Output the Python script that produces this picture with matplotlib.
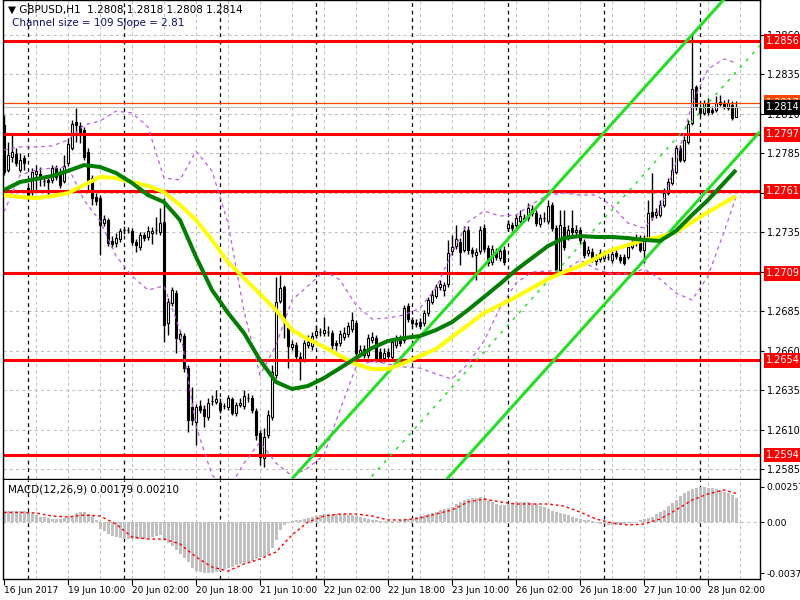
import numpy as np
import matplotlib
matplotlib.use("Agg")
import matplotlib.pyplot as plt
from matplotlib import transforms

plt.rcParams['font.family'] = ['DejaVu Sans']

# ---------------- text ----------------
symbol_title = "\u25BC GBPUSD,H1  1.2808 1.2818 1.2808 1.2814"
channel_text = "Channel size = 109 Slope = 2.81"
macd_title = "MACD(12,26,9) 0.00179 0.00210"

time_idx = [0, 16, 32, 48, 64, 80, 96, 112, 128, 144, 160, 176]
time_labels = ["16 Jun 2017", "19 Jun 10:00", "20 Jun 02:00", "20 Jun 18:00",
               "21 Jun 10:00", "22 Jun 02:00", "22 Jun 18:00", "23 Jun 10:00",
               "26 Jun 02:00", "26 Jun 18:00", "27 Jun 10:00", "28 Jun 02:00"]
day_separators = [6, 30, 54, 78, 102, 126, 150, 174]

# ---------------- H1 candles ----------------
opens = [
    1.28028, 1.27744, 1.27827, 1.27846, 1.27744, 1.27820, 1.27630, 1.27617, 1.27719, 1.27719,
    1.27675, 1.27681, 1.27681, 1.27756, 1.27731, 1.27675, 1.27788, 1.27883, 1.28047, 1.28022,
    1.27997, 1.27858, 1.27693, 1.27573, 1.27566, 1.27408, 1.27427, 1.27295, 1.27282, 1.27307,
    1.27364, 1.27364, 1.27358, 1.27288, 1.27257, 1.27332, 1.27320, 1.27345, 1.27364, 1.27351,
    1.27414, 1.26775, 1.26902, 1.26965, 1.26674, 1.26693, 1.26490, 1.26244, 1.26148, 1.26250,
    1.26231, 1.26181, 1.26282, 1.26275, 1.26269, 1.26250, 1.26244, 1.26294, 1.26206, 1.26256,
    1.26250, 1.26300, 1.26300, 1.26219, 1.26079, 1.25921, 1.26066, 1.26181, 1.26446, 1.26915,
    1.27004, 1.26743, 1.26624, 1.26636, 1.26561, 1.26541, 1.26636, 1.26630, 1.26699, 1.26718,
    1.26712, 1.26718, 1.26712, 1.26649, 1.26649, 1.26687, 1.26706, 1.26737, 1.26775, 1.26586,
    1.26611, 1.26573, 1.26668, 1.26680, 1.26592, 1.26554, 1.26592, 1.26561, 1.26636, 1.26680,
    1.26668, 1.26883, 1.26794, 1.26769, 1.26781, 1.26775, 1.26839, 1.26908, 1.26946, 1.27004,
    1.26984, 1.27023, 1.27232, 1.27263, 1.27288, 1.27238, 1.27364, 1.27238, 1.27206, 1.27232,
    1.27376, 1.27250, 1.27161, 1.27225, 1.27187, 1.27238, 1.27376, 1.27395, 1.27395, 1.27421,
    1.27427, 1.27440, 1.27497, 1.27472, 1.27402, 1.27440, 1.27421, 1.27522, 1.27376, 1.27111,
    1.27383, 1.27332, 1.27376, 1.27351, 1.27364, 1.27288, 1.27219, 1.27225, 1.27168, 1.27181,
    1.27187, 1.27194, 1.27174, 1.27219, 1.27194, 1.27194, 1.27194, 1.27257, 1.27282, 1.27313,
    1.27238, 1.27313, 1.27478, 1.27459, 1.27459, 1.27522, 1.27598, 1.27662, 1.27731, 1.27883,
    1.27807, 1.27921, 1.28041, 1.28270, 1.28136, 1.28105, 1.28168, 1.28124, 1.28124, 1.28174,
    1.28168, 1.28136, 1.28155, 1.28080]
highs = [
    1.28092, 1.27921, 1.27978, 1.27883, 1.27852, 1.27839, 1.27649, 1.27756, 1.27775, 1.27763,
    1.27700, 1.27693, 1.27775, 1.27775, 1.27756, 1.27839, 1.27946, 1.28060, 1.28136, 1.28047,
    1.28016, 1.27883, 1.27712, 1.27598, 1.27585, 1.27459, 1.27440, 1.27326, 1.27345, 1.27376,
    1.27389, 1.27383, 1.27376, 1.27307, 1.27351, 1.27351, 1.27389, 1.27383, 1.27447, 1.27503,
    1.27566, 1.26933, 1.27004, 1.26984, 1.26731, 1.26712, 1.26509, 1.26371, 1.26263, 1.26288,
    1.26256, 1.26300, 1.26319, 1.26351, 1.26300, 1.26269, 1.26319, 1.26307, 1.26275, 1.26300,
    1.26351, 1.26332, 1.26319, 1.26237, 1.26098, 1.26110, 1.26225, 1.26509, 1.27067, 1.27079,
    1.27016, 1.26763, 1.26668, 1.26655, 1.26592, 1.26668, 1.26699, 1.26718, 1.26763, 1.26743,
    1.26814, 1.26756, 1.26731, 1.26668, 1.26731, 1.26750, 1.26781, 1.26845, 1.26794, 1.26636,
    1.26636, 1.26706, 1.26718, 1.26699, 1.26617, 1.26617, 1.26617, 1.26680, 1.26699, 1.26699,
    1.26889, 1.26902, 1.26814, 1.26801, 1.26807, 1.26858, 1.26940, 1.26984, 1.27023, 1.27048,
    1.27035, 1.27301, 1.27332, 1.27396, 1.27313, 1.27389, 1.27389, 1.27257, 1.27250, 1.27389,
    1.27402, 1.27269, 1.27269, 1.27250, 1.27263, 1.27263, 1.27427, 1.27414, 1.27466, 1.27491,
    1.27466, 1.27535, 1.27522, 1.27491, 1.27466, 1.27478, 1.27554, 1.27541, 1.27395, 1.27491,
    1.27491, 1.27395, 1.27491, 1.27395, 1.27383, 1.27307, 1.27263, 1.27250, 1.27213, 1.27244,
    1.27225, 1.27219, 1.27238, 1.27238, 1.27213, 1.27213, 1.27282, 1.27301, 1.27339, 1.27332,
    1.27332, 1.27554, 1.27725, 1.27503, 1.27554, 1.27630, 1.27693, 1.27827, 1.27902, 1.27902,
    1.27959, 1.28060, 1.28598, 1.28282, 1.28162, 1.28187, 1.28199, 1.28149, 1.28212, 1.28218,
    1.28187, 1.28193, 1.28181, 1.28180]
lows = [
    1.27712, 1.27731, 1.27794, 1.27769, 1.27731, 1.27744, 1.27554, 1.27585, 1.27604, 1.27643,
    1.27643, 1.27585, 1.27662, 1.27681, 1.27630, 1.27662, 1.27769, 1.27871, 1.27921, 1.27915,
    1.27807, 1.27617, 1.27522, 1.27522, 1.27206, 1.27389, 1.27263, 1.27250, 1.27257, 1.27288,
    1.27339, 1.27345, 1.27269, 1.27225, 1.27238, 1.27295, 1.27301, 1.27276, 1.27339, 1.27332,
    1.26655, 1.26699, 1.26883, 1.26586, 1.26655, 1.26465, 1.26085, 1.26129, 1.26003, 1.26206,
    1.26117, 1.26161, 1.26256, 1.26263, 1.26206, 1.26231, 1.26225, 1.26193, 1.26187, 1.26244,
    1.26231, 1.26275, 1.26206, 1.26035, 1.25876, 1.25864, 1.26047, 1.26161, 1.26427, 1.26902,
    1.26680, 1.26490, 1.26605, 1.26541, 1.26415, 1.26528, 1.26617, 1.26605, 1.26680, 1.26693,
    1.26693, 1.26693, 1.26611, 1.26605, 1.26630, 1.26668, 1.26687, 1.26718, 1.26567, 1.26567,
    1.26554, 1.26554, 1.26649, 1.26528, 1.26528, 1.26528, 1.26541, 1.26541, 1.26617, 1.26630,
    1.26649, 1.26781, 1.26750, 1.26750, 1.26737, 1.26756, 1.26820, 1.26896, 1.26933, 1.26984,
    1.26946, 1.27004, 1.27206, 1.27244, 1.27142, 1.27225, 1.27213, 1.27194, 1.27048, 1.27213,
    1.27225, 1.27136, 1.27142, 1.27174, 1.27168, 1.27142, 1.27358, 1.27358, 1.27376, 1.27402,
    1.27414, 1.27421, 1.27453, 1.27389, 1.27383, 1.27414, 1.27402, 1.27358, 1.27079, 1.27092,
    1.27238, 1.27301, 1.27326, 1.27326, 1.27276, 1.27187, 1.27200, 1.27161, 1.27142, 1.27161,
    1.27168, 1.27174, 1.27155, 1.27181, 1.27155, 1.27142, 1.27181, 1.27244, 1.27263, 1.27225,
    1.27155, 1.27301, 1.27427, 1.27440, 1.27447, 1.27510, 1.27585, 1.27649, 1.27719, 1.27794,
    1.27794, 1.27909, 1.28028, 1.28124, 1.28086, 1.28092, 1.28092, 1.28099, 1.28111, 1.28149,
    1.28130, 1.28124, 1.28060, 1.28080]
closes = [
    1.27731, 1.27839, 1.27858, 1.27788, 1.27807, 1.27788, 1.27585, 1.27731, 1.27738, 1.27687,
    1.27677, 1.27668, 1.27756, 1.27700, 1.27649, 1.27769, 1.27909, 1.28035, 1.28028, 1.27984,
    1.27826, 1.27681, 1.27566, 1.27548, 1.27395, 1.27434, 1.27282, 1.27276, 1.27313, 1.27358,
    1.27366, 1.27362, 1.27288, 1.27269, 1.27332, 1.27313, 1.27358, 1.27358, 1.27366, 1.27408,
    1.26762, 1.26908, 1.26984, 1.26680, 1.26706, 1.26490, 1.26161, 1.26161, 1.26244, 1.26225,
    1.26187, 1.26269, 1.26284, 1.26294, 1.26225, 1.26252, 1.26300, 1.26206, 1.26256, 1.26269,
    1.26313, 1.26302, 1.26225, 1.26066, 1.25928, 1.26054, 1.26193, 1.26465, 1.26908, 1.26997,
    1.26794, 1.26630, 1.26643, 1.26567, 1.26535, 1.26649, 1.26655, 1.26693, 1.26725, 1.26720,
    1.26731, 1.26716, 1.26636, 1.26636, 1.26706, 1.26712, 1.26756, 1.26794, 1.26586, 1.26605,
    1.26573, 1.26680, 1.26687, 1.26548, 1.26554, 1.26586, 1.26567, 1.26655, 1.26680, 1.26649,
    1.26870, 1.26801, 1.26775, 1.26775, 1.26756, 1.26839, 1.26921, 1.26952, 1.27004, 1.27023,
    1.27016, 1.27219, 1.27257, 1.27307, 1.27225, 1.27358, 1.27238, 1.27219, 1.27225, 1.27364,
    1.27244, 1.27155, 1.27244, 1.27194, 1.27232, 1.27161, 1.27402, 1.27376, 1.27440, 1.27453,
    1.27440, 1.27503, 1.27472, 1.27408, 1.27440, 1.27442, 1.27516, 1.27376, 1.27111, 1.27395,
    1.27257, 1.27364, 1.27351, 1.27364, 1.27301, 1.27206, 1.27238, 1.27187, 1.27187, 1.27219,
    1.27206, 1.27196, 1.27213, 1.27200, 1.27174, 1.27155, 1.27257, 1.27282, 1.27313, 1.27238,
    1.27313, 1.27472, 1.27447, 1.27478, 1.27522, 1.27598, 1.27668, 1.27744, 1.27883, 1.27807,
    1.27934, 1.28035, 1.28257, 1.28143, 1.28105, 1.28168, 1.28111, 1.28111, 1.28168, 1.28162,
    1.28143, 1.28168, 1.28073, 1.28140]

# ---------------- indicators (sampled every 4 bars + last bar) ----------------
ind_idx = list(range(0, 181, 4)) + [183]
ma_green = [
    1.27617, 1.27668, 1.27687, 1.27706, 1.27738, 1.27775, 1.27763, 1.27725, 1.27662, 1.27585,
    1.27541, 1.27427, 1.27194, 1.26984, 1.26839, 1.26712, 1.26541, 1.26402, 1.26358, 1.26377,
    1.26427, 1.26490, 1.26554, 1.26617, 1.26662, 1.26680, 1.26693, 1.26731, 1.26781, 1.26858,
    1.26940, 1.27023, 1.27111, 1.27187, 1.27263, 1.27313, 1.27326, 1.27320, 1.27320, 1.27313,
    1.27301, 1.27295, 1.27358, 1.27459, 1.27554, 1.27662, 1.27744]
ma_yellow = [
    1.27585, 1.27573, 1.27566, 1.27579, 1.27598, 1.27649, 1.27700, 1.27693, 1.27668, 1.27643,
    1.27605, 1.27522, 1.27427, 1.27301, 1.27161, 1.27060, 1.26959, 1.26858, 1.26731, 1.26674,
    1.26624, 1.26567, 1.26516, 1.26484, 1.26484, 1.26522, 1.26567, 1.26611, 1.26687, 1.26762,
    1.26839, 1.26889, 1.26940, 1.26997, 1.27054, 1.27098, 1.27136, 1.27187, 1.27238, 1.27269,
    1.27301, 1.27320, 1.27351, 1.27414, 1.27478, 1.27535, 1.27579]
bb_upper = [
    1.27871, 1.27890, 1.27890, 1.27896, 1.27934, 1.28028, 1.28054, 1.28117, 1.28105, 1.28016,
    1.27693, 1.27681, 1.27864, 1.27738, 1.27408, 1.26851, 1.26446, 1.26636, 1.26921, 1.27010,
    1.27105, 1.27048, 1.26889, 1.26801, 1.26807, 1.26826, 1.26870, 1.26997, 1.27219, 1.27415,
    1.27484, 1.27453, 1.27459, 1.27529, 1.27585, 1.27598, 1.27585, 1.27585, 1.27516, 1.27408,
    1.27376, 1.27491, 1.27794, 1.28162, 1.28383, 1.28447, 1.28421]
bb_lower = [
    1.27478, 1.27712, 1.27744, 1.27756, 1.27763, 1.27554, 1.27421, 1.27200, 1.27073, 1.26984,
    1.27010, 1.26731, 1.26123, 1.25813, 1.25718, 1.25889, 1.26022, 1.25889, 1.25807, 1.25858,
    1.25940, 1.26225, 1.26497, 1.26535, 1.26516, 1.26497, 1.26490, 1.26453, 1.26421, 1.26516,
    1.26662, 1.26870, 1.27029, 1.27098, 1.27105, 1.27105, 1.27174, 1.27117, 1.27086, 1.27086,
    1.27117, 1.27054, 1.26965, 1.26921, 1.27073, 1.27351, 1.27573]

macd_hist = [
    0.00084, 0.00084, 0.00084, 0.00084, 0.00081, 0.00081,
    0.00066, 0.00059, 0.00051, 0.00037, 0.00037, 0.00029,
    0.00022, 0.00022, 0.00022, 0.00029, 0.00037, 0.00044,
    0.00066, 0.00073, 0.00073, 0.00059, 0.00044, 0.00015,
    -0.00051, -0.00066, -0.00088, -0.00103, -0.00110, -0.00117,
    -0.00125, -0.00125, -0.00125, -0.00125, -0.00125, -0.00125,
    -0.00117, -0.00110, -0.00103, -0.00095, -0.00132, -0.00154,
    -0.00176, -0.00206, -0.00235, -0.00264, -0.00294, -0.00338,
    -0.00360, -0.00370, -0.00375, -0.00375, -0.00372, -0.00367,
    -0.00360, -0.00345, -0.00338, -0.00330, -0.00316, -0.00308,
    -0.00301, -0.00294, -0.00286, -0.00272, -0.00257, -0.00250,
    -0.00242, -0.00191, -0.00132, -0.00059, -0.00022, -0.00007,
    0.00007, 0.00015, 0.00015, 0.00022, 0.00029, 0.00037,
    0.00044, 0.00051, 0.00059, 0.00059, 0.00059, 0.00059,
    0.00059, 0.00059, 0.00051, 0.00051, 0.00044, 0.00037,
    0.00029, 0.00022, 0.00015, 0.00015, 0.00007, 0.00007,
    0.00007, 0.00007, 0.00007, 0.00015, 0.00022, 0.00022,
    0.00029, 0.00037, 0.00044, 0.00051, 0.00059, 0.00066,
    0.00073, 0.00088, 0.00095, 0.00103, 0.00110, 0.00132,
    0.00147, 0.00161, 0.00169, 0.00176, 0.00176, 0.00184,
    0.00176, 0.00161, 0.00147, 0.00132, 0.00125, 0.00125,
    0.00132, 0.00139, 0.00147, 0.00147, 0.00147, 0.00147,
    0.00139, 0.00132, 0.00117, 0.00110, 0.00095, 0.00081,
    0.00073, 0.00066, 0.00059, 0.00051, 0.00037, 0.00029,
    0.00022, 0.00015, 0.00015, 0.00007, -0.00007, -0.00015,
    -0.00015, -0.00022, -0.00022, -0.00022, -0.00022, -0.00015,
    -0.00007, -0.00007, 0.00000, 0.00015, 0.00022, 0.00029,
    0.00037, 0.00059, 0.00073, 0.00088, 0.00117, 0.00139,
    0.00161, 0.00191, 0.00213, 0.00228, 0.00242, 0.00250,
    0.00257, 0.00257, 0.00250, 0.00250, 0.00242, 0.00235,
    0.00220, 0.00213, 0.00198, 0.00179]
macd_signal = [
    0.00070, 0.00070, 0.00066, 0.00044, 0.00037, 0.00051, 0.00044, -0.00015, -0.00110, -0.00125,
    -0.00125, -0.00161, -0.00257, -0.00330, -0.00360, -0.00308, -0.00272, -0.00220, -0.00095, 0.00000,
    0.00044, 0.00059, 0.00059, 0.00044, 0.00015, 0.00015, 0.00029, 0.00059, 0.00088, 0.00147,
    0.00169, 0.00147, 0.00132, 0.00132, 0.00132, 0.00117, 0.00073, 0.00022, -0.00007, -0.00022,
    -0.00015, 0.00022, 0.00088, 0.00161, 0.00206, 0.00235, 0.00210]

# ---------------- levels / channel ----------------
levels = [1.2856, 1.2797, 1.2761, 1.2709, 1.2654, 1.2594]
ask_price = 1.2817
bid_price = 1.2814
channel_start = 72
channel_ref_bar = 150
channel_ref_mid = 1.27436
channel_slope = 0.000281
channel_size = 0.0109

price_ticks = [1.2585, 1.2610, 1.2635, 1.2660, 1.2685, 1.2710,
               1.2735, 1.2760, 1.2785, 1.2810, 1.2835, 1.2860]
macd_ticks = [0.00257, 0.0, -0.00375]
macd_tick_labels = ["0.00257", "0.00", "-0.00375"]

n = len(closes)
assert len(opens) == len(highs) == len(lows) == n == len(macd_hist)
assert len(ind_idx) == len(ma_green) == len(ma_yellow) == len(bb_upper) == len(bb_lower) == len(macd_signal)

# ---------------- figure ----------------
W, H = 800, 600
fig = plt.figure(figsize=(8, 6), dpi=100)
fig.patch.set_facecolor('white')


def add_px(x0, y0, x1, y1):
    return fig.add_axes([x0 / W, 1 - y1 / H, (x1 - x0) / W, (y1 - y0) / H])


ax = add_px(3, 0, 760, 479)
axm = add_px(3, 480, 760, 579)
XL = (-0.25, -0.25 + 757 / 4)
for a in (ax, axm):
    a.set_xlim(XL)
    a.set_facecolor('white')
    for s in a.spines.values():
        s.set_color('black')
        s.set_linewidth(1.0)
axm.spines['top'].set_visible(False)
ax.set_ylim(1.25788, 1.28820)
axm.set_ylim(-0.00418, 0.00308)

grid_kw = dict(color='#c0c0c0', lw=0.75, dashes=(3, 3), zorder=0.5)
for p in price_ticks:
    ax.axhline(p, **grid_kw)
for i in range(8, 190, 8):
    ax.axvline(i, **grid_kw)
    axm.axvline(i, **grid_kw)
axm.axhline(0, **grid_kw)
for i in day_separators:
    ax.axvline(i, color='black', lw=0.9, dashes=(3, 3), zorder=0.6)
    axm.axvline(i, color='black', lw=0.9, dashes=(3, 3), zorder=0.6)

# candles
x = np.arange(n)
o = np.array(opens); h = np.array(highs); l = np.array(lows); c = np.array(closes)
ax.vlines(x, l, h, color='black', lw=1.0, zorder=2)
up = c >= o
body = np.where(np.abs(c - o) < 1e-6, 1e-6, c - o)
ax.bar(x[up], body[up], bottom=o[up], width=0.62, color='white', edgecolor='black',
       linewidth=0.8, zorder=2.1)
ax.bar(x[~up], body[~up], bottom=o[~up], width=0.62, color='black', edgecolor='black',
       linewidth=0.8, zorder=2.1)

# level lines
for p in levels:
    ax.axhline(p, color='#ff0000', lw=2.2, zorder=2.5)
ax.axhline(ask_price, color='#ff4500', lw=0.9, zorder=2.4)
ax.axhline(bid_price, color='#c0c0c0', lw=0.9, zorder=2.4)

# Bollinger bands
bb_kw = dict(color='#bb5fdd', lw=0.9, dashes=(3, 3), zorder=3)
ax.plot(ind_idx, bb_upper, **bb_kw)
ax.plot(ind_idx, bb_lower, **bb_kw)

# regression channel
cx = np.array([channel_start, XL[1]])
mid = channel_ref_mid + channel_slope * (cx - channel_ref_bar)
ax.plot(cx, mid + channel_size / 2, color='#22e022', lw=2.2, zorder=3.2, solid_capstyle='butt')
ax.plot(cx, mid - channel_size / 2, color='#22e022', lw=2.2, zorder=3.2, solid_capstyle='butt')
ax.plot(cx, mid, color='#22e022', lw=1.1, dashes=(2, 4), zorder=3.2)

# moving averages
ax.plot(ind_idx, ma_yellow, color='#ffff00', lw=2.9, zorder=3.4, solid_capstyle='butt')
ax.plot(ind_idx, ma_green, color='#007f00', lw=2.9, zorder=3.5, solid_capstyle='butt')

# MACD
axm.bar(x, macd_hist, width=0.75, color='#c0c0c0', zorder=2)
axm.plot(ind_idx, macd_signal, color='#ff0000', lw=1.0, dashes=(2, 2), zorder=3)

# axes ticks
ax.yaxis.tick_right()
ax.set_yticks(price_ticks)
ax.set_yticklabels([f"{p:.4f}" for p in price_ticks])
ax.tick_params(axis='y', labelsize=7, length=3, pad=2, direction='out', colors='black')
ax.set_xticks([])
axm.yaxis.tick_right()
axm.set_yticks(macd_ticks)
axm.set_yticklabels(macd_tick_labels)
axm.tick_params(axis='y', labelsize=6.6, length=3, pad=1.5, direction='out')
axm.set_xticks(time_idx)
axm.set_xticklabels(time_labels)
for lab in axm.get_xticklabels():
    lab.set_ha('left')
axm.tick_params(axis='x', labelsize=6.5, length=4, pad=1, direction='out')

# right-side price boxes
trans = transforms.blended_transform_factory(ax.transAxes, ax.transData)


def price_box(p, fc, tc='white'):
    ax.text(1 + 6 / 757, p, f"{p:.4f}", transform=trans, fontsize=7, color=tc,
            va='center', ha='left', clip_on=False, zorder=6,
            bbox=dict(boxstyle='square,pad=0.25', fc=fc, ec='none'))


for p in levels:
    price_box(p, '#ff0000')
price_box(ask_price, '#ff4500')
price_box(bid_price, '#000000')

# titles
fig.text(8 / W, 1 - 10 / H, symbol_title, fontsize=7.5, va='center', ha='left', color='black')
fig.text(12 / W, 1 - 23 / H, channel_text, fontsize=7.5, va='center', ha='left', color='#101060')
fig.text(8 / W, 1 - 490 / H, macd_title, fontsize=7.5, va='center', ha='left', color='black')

fig.savefig('out.png', dpi=100, facecolor='white')
